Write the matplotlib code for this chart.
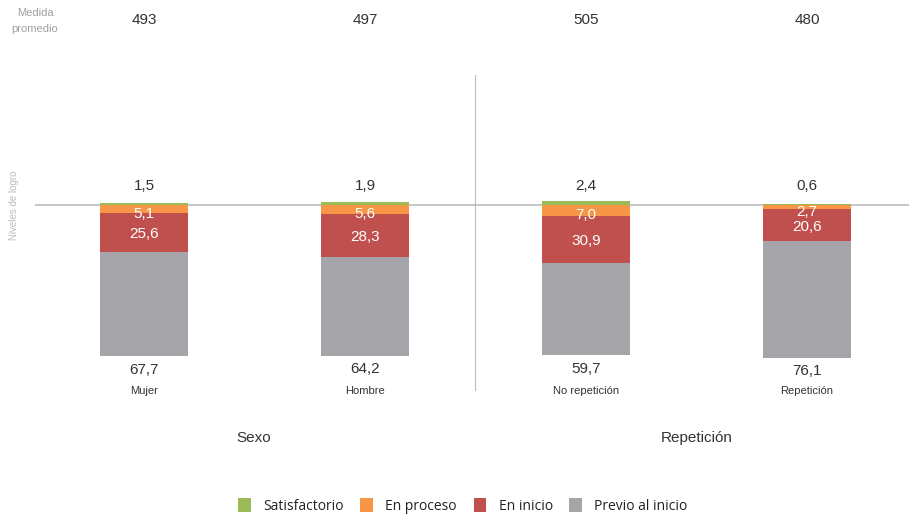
import matplotlib
matplotlib.use("Agg")
import matplotlib.pyplot as plt
import numpy as np

categories = ["Mujer", "Hombre", "No repetición", "Repetición"]
groups = ["Sexo", "Repetición"]
medias = [493, 497, 505, 480]
satisfactorio = [1.5, 1.9, 2.4, 0.6]
en_proceso = [5.1, 5.6, 7.0, 2.7]
en_inicio = [25.6, 28.3, 30.9, 20.6]
previo = [67.7, 64.2, 59.7, 76.1]
legend_labels = ["Satisfactorio", "En proceso", "En inicio", "Previo al inicio"]
colors = ["#9BBB59", "#F79646", "#C0504D", "#A5A5A9"]

W, H = 909, 516
fig = plt.figure(figsize=(W / 100, H / 100), dpi=100)
plt.rcParams['font.family'] = ['Liberation Sans', 'DejaVu Sans']

# axes geometry in pixels
ax_left, ax_right, ax_top, ax_bot = 35, 909, 60, 400
ax = fig.add_axes([ax_left / W, 1 - ax_bot / H, (ax_right - ax_left) / W, (ax_bot - ax_top) / H])
ppu = 1.535  # pixels per unit
zero_px = 205
ax.set_ylim(-(ax_bot - zero_px) / ppu, (zero_px - ax_top) / ppu)
x = np.arange(len(categories))
ax.set_xlim(-(144 - ax_left) / 221, 3 + (ax_right - 807) / 221)
ax.axis("off")

width = 88 / 221
sat = np.array(satisfactorio)
pro = np.array(en_proceso)
ini = np.array(en_inicio)
prev = np.array(previo)

ax.bar(x, sat, width, bottom=0, color=colors[0], zorder=2)
ax.bar(x, -pro, width, bottom=0, color=colors[1], zorder=2)
ax.bar(x, -ini, width, bottom=-pro, color=colors[2], zorder=2)
ax.bar(x, -prev, width, bottom=-pro - ini, color=colors[3], zorder=2)

ax.axhline(0, color="#bdbdbd", lw=1.2, zorder=1)
ax.axvline(1.5, ymin=(ax_bot - 390) / (ax_bot - ax_top), ymax=(ax_bot - 75) / (ax_bot - ax_top),
           color="#bdbdbd", lw=0.8, zorder=1)

def fmt(v):
    return f"{v:.1f}".replace(".", ",")

tc = "#333333"
for i in range(len(categories)):
    ax.text(x[i], (zero_px - 186) / ppu, fmt(sat[i]), ha="center", va="center",
            fontsize=11, color=tc)
    ax.text(x[i], -pro[i] / 2 - 3.0, fmt(pro[i]), ha="center", va="center",
            fontsize=11, color="white", zorder=3)
    ax.text(x[i], -pro[i] - ini[i] / 2 - 1.2, fmt(ini[i]), ha="center", va="center",
            fontsize=11, color="white", zorder=3)
    bot = -(pro[i] + ini[i] + prev[i])
    ax.text(x[i], bot - 4.5, fmt(prev[i]), ha="center", va="top", fontsize=11, color=tc)
    ax.text(x[i], -(391 - zero_px) / ppu, categories[i], ha="center", va="center",
            fontsize=8, color=tc)

# top medias
for i in range(len(categories)):
    fig.text(((144 + 221 * i)) / W, 1 - 20 / H, str(medias[i]), ha="center", va="center",
             fontsize=11, color=tc)
fig.text(35 / W, 1 - 20.5 / H, "Medida\npromedio", ha="center", va="center", fontsize=8,
         color="#a0a0a0", linespacing=1.75)
fig.text(14 / W, 1 - 205 / H, "Niveles de logro", rotation=90, ha="center", va="center",
         fontsize=7, color="#bbbbbb")

# group labels
fig.text(254 / W, 1 - 438 / H, groups[0], ha="center", va="center", fontsize=11, color=tc)
fig.text(697 / W, 1 - 438 / H, groups[1], ha="center", va="center", fontsize=11, color=tc)

# legend
from matplotlib.patches import Patch
handles = [Patch(facecolor=c, edgecolor="none") for c in colors]
leg = fig.legend(handles, legend_labels, loc="center", bbox_to_anchor=(463 / W, 1 - 506 / H),
                 ncol=4, frameon=False, handlelength=0.9, handleheight=1.2,
                 columnspacing=1.2, handletextpad=0.9, borderpad=0.2,
                 prop={"family": "Open Sans", "size": 10})
for t in leg.get_texts():
    t.set_color("#222222")

fig.savefig("out.png", dpi=100)
